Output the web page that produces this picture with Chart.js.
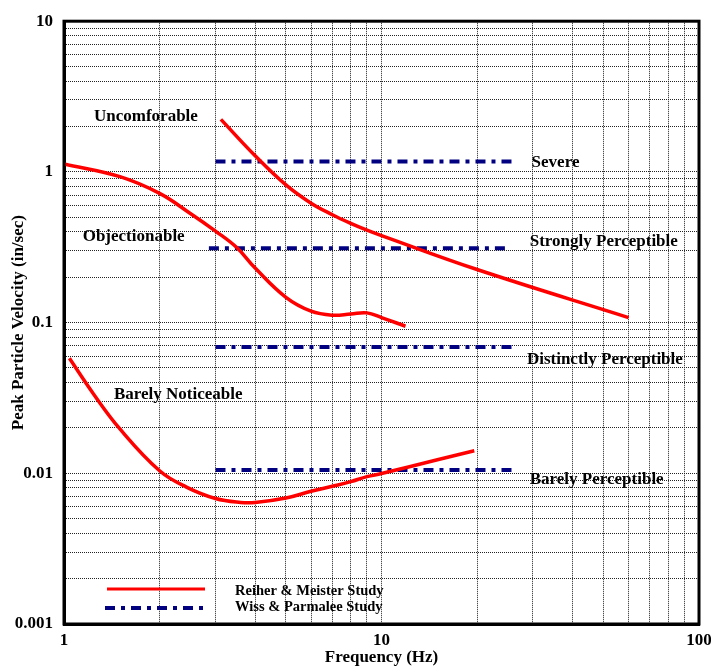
<!DOCTYPE html>
<html>
<head>
<meta charset="utf-8">
<script src="https://cdn.jsdelivr.net/npm/chart.js@4"></script>
<style>
    html, body { margin: 0; padding: 0; background: #fff; }
    #wrap { width: 711px; height: 669px; }
</style>
</head>
<body>
<div id="wrap"><canvas id="chart" width="711" height="669"></canvas></div>
<script>
// Reiher & Meister curves (frequency Hz / peak particle velocity in/sec)
const uncomfFreq = [3.12, 4, 5, 6, 7, 8, 9, 10, 20, 60];
const uncomfVel = [2.23, 1.28, 0.82, 0.62, 0.52, 0.456, 0.411, 0.378, 0.225, 0.108];

const objectFreq = [1, 1.5, 2, 2.5, 3, 3.5, 4, 5, 6, 7, 8, 9, 10, 11.9];
const objectVel = [1.13, 0.93, 0.72, 0.53, 0.405, 0.315, 0.23, 0.147, 0.119, 0.112, 0.114, 0.116, 0.108, 0.0946];

const noticeFreq = [1.04, 1.24, 1.5, 2, 2.43, 3, 3.6, 4, 5, 6, 7, 8, 9, 10, 15, 19.6];
const noticeVel = [0.058, 0.0335, 0.0197, 0.0104, 0.0081, 0.0068, 0.0064, 0.0064, 0.00685, 0.0076, 0.0082, 0.0088, 0.0095, 0.00996, 0.0123, 0.0141];

// Wiss & Parmalee levels
const wissLevels = [1.17, 0.311, 0.069, 0.0105];
const wissStart = [3.0, 2.86, 3.0, 3.0];
const wissEnd = [26.2, 25.3, 26.2, 26.2];

// text labels, anchored at (freq, velocity)
const zoneNames = ['Uncomforable', 'Objectionable', 'Barely Noticeable'];
const zoneAt = [[1.243, 2.31], [1.145, 0.372], [1.436, 0.0335]];
const levelNames = ['Severe', 'Strongly Perceptible', 'Distinctly Perceptible', 'Barely Perceptible'];
const levelAt = [[29.7, 1.16], [29.3, 0.345], [28.7, 0.0569], [29.3, 0.00908]];

const seriesNames = ['Reiher & Meister Study', 'Wiss & Parmalee Study'];

const xTickLabels = [1, 10, 100];
const yTickLabels = [0.001, 0.01, 0.1, 1, 10];

const FONT = '"Liberation Serif", "Times New Roman", serif';
const RED = '#ff0000';
const NAVY = '#000080';
const DASH = [10, 6, 4, 6];

function logGrid(min, max) {
    const out = [];
    for (let d = min; d < max; d *= 10) {
        for (let k = 1; k < 10; k++) out.push(+(d * k).toPrecision(3));
    }
    out.push(max);
    return out;
}

function pairs(xs, ys) {
    return xs.map((v, i) => ({ x: v, y: ys[i] }));
}

const datasets = [];
[[uncomfFreq, uncomfVel], [objectFreq, objectVel], [noticeFreq, noticeVel]].forEach(([f, v]) => {
    datasets.push({
        label: seriesNames[0],
        data: pairs(f, v),
        borderColor: RED,
        borderWidth: 3.5,
        pointRadius: 0,
        tension: 0.4,
        fill: false
    });
});
wissLevels.forEach((lvl, i) => {
    datasets.push({
        label: seriesNames[1],
        data: [{ x: wissStart[i], y: lvl }, { x: wissEnd[i], y: lvl }],
        borderColor: NAVY,
        borderWidth: 4,
        borderDash: DASH,
        borderCapStyle: 'butt',
        pointRadius: 0,
        fill: false
    });
});

// text labels, legend box and plot frame
const annotate = {
    id: 'annotate',
    afterDatasetsDraw(chart) {
        const { ctx, chartArea: a, scales: { x, y } } = chart;
        ctx.save();
        ctx.fillStyle = '#000';
        ctx.textAlign = 'left';
        ctx.textBaseline = 'middle';
        ctx.font = 'bold 17px ' + FONT;
        zoneNames.forEach((t, i) => {
            ctx.fillText(t, x.getPixelForValue(zoneAt[i][0]), y.getPixelForValue(zoneAt[i][1]));
        });
        levelNames.forEach((t, i) => {
            ctx.fillText(t, x.getPixelForValue(levelAt[i][0]), y.getPixelForValue(levelAt[i][1]));
        });

        // legend
        const lx = a.left + 42;
        const ly = a.bottom - 35;
        ctx.lineCap = 'butt';
        ctx.strokeStyle = RED;
        ctx.lineWidth = 3;
        ctx.beginPath();
        ctx.moveTo(lx + 1, ly);
        ctx.lineTo(lx + 99, ly);
        ctx.stroke();
        ctx.strokeStyle = NAVY;
        ctx.lineWidth = 4;
        ctx.setLineDash(DASH);
        ctx.beginPath();
        ctx.moveTo(lx - 1, ly + 19);
        ctx.lineTo(lx + 97, ly + 19);
        ctx.stroke();
        ctx.setLineDash([]);
        ctx.font = 'bold 14.5px ' + FONT;
        ctx.fillText(seriesNames[0], lx + 129, ly + 2);
        ctx.fillText(seriesNames[1], lx + 129, ly + 18);

        // frame
        ctx.strokeStyle = '#000';
        ctx.lineWidth = 3;
        ctx.strokeRect(a.left, a.top, a.right - a.left, a.bottom - a.top);
        ctx.restore();
    }
};

const axisFont = { family: FONT, weight: 'bold', size: 17 };

new Chart(document.getElementById('chart'), {
    type: 'line',
    data: { datasets: datasets },
    plugins: [annotate],
    options: {
        responsive: false,
        animation: false,
        layout: { padding: { top: 18, right: 12, left: 0, bottom: 0 } },
        plugins: {
            legend: { display: false },
            tooltip: { enabled: false }
        },
        scales: {
            x: {
                type: 'logarithmic',
                min: 1,
                max: 100,
                afterBuildTicks: scale => {
                    scale.ticks = logGrid(1, 100).map(v => ({ value: v }));
                },
                afterFit: scale => {
                    scale.height = 45;
                    scale.paddingLeft = 0;
                    scale.paddingRight = 0;
                },
                ticks: {
                    autoSkip: false,
                    maxRotation: 0,
                    padding: 6,
                    color: '#000',
                    font: axisFont,
                    callback: v => xTickLabels.includes(v) ? String(v) : ''
                },
                grid: { color: '#222', lineWidth: 1, drawTicks: false },
                border: { color: '#000', width: 3, dash: [1, 1] },
                title: {
                    display: true,
                    text: 'Frequency (Hz)',
                    color: '#000',
                    font: axisFont,
                    padding: { top: 0, bottom: 1 }
                }
            },
            y: {
                type: 'logarithmic',
                min: 0.001,
                max: 10,
                afterBuildTicks: scale => {
                    scale.ticks = logGrid(0.001, 10).map(v => ({ value: v }));
                },
                afterFit: scale => {
                    scale.width = 64;
                },
                ticks: {
                    autoSkip: false,
                    padding: 11,
                    color: '#000',
                    font: axisFont,
                    callback: v => yTickLabels.includes(v) ? String(v) : ''
                },
                grid: { color: '#222', lineWidth: 1, drawTicks: false },
                border: { color: '#000', width: 3, dash: [1, 1] },
                title: {
                    display: true,
                    text: 'Peak Particle Velocity (in/sec)',
                    color: '#000',
                    font: axisFont,
                    padding: { top: 8, bottom: 0 }
                }
            }
        }
    }
});
</script>
</body>
</html>
